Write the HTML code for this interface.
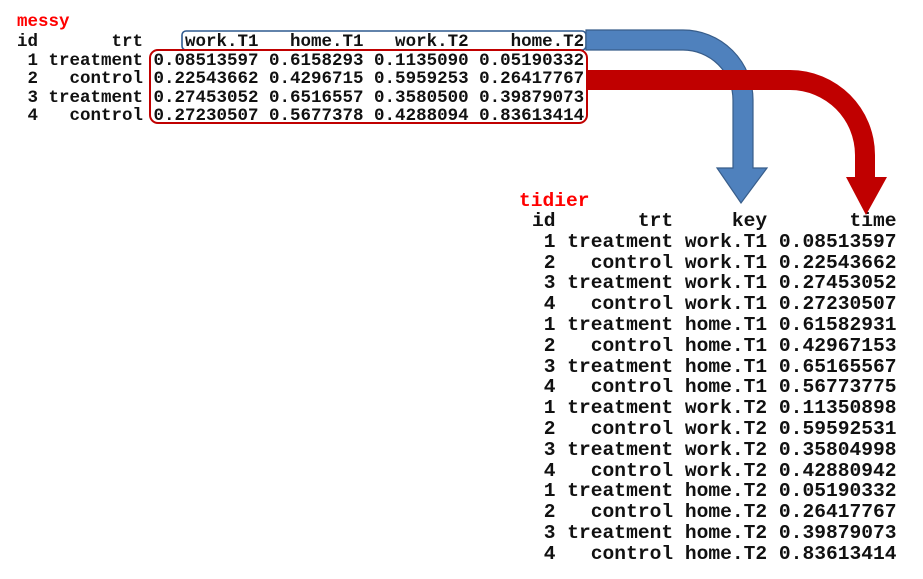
<!DOCTYPE html>
<html><head><meta charset="utf-8"><style>
body{margin:0;width:923px;height:579px;background:#fff;position:relative;overflow:hidden}
pre{margin:0;position:absolute;font-family:"Liberation Mono",monospace;font-weight:bold;color:#111}
.m{left:17px;top:33px;font-size:17.5px;line-height:18.5px}
.t{left:532px;top:211px;font-size:19.6px;line-height:20.8px}
.lab{color:#f00}
svg{position:absolute;left:0;top:0}
</style></head><body>
<pre class="m lab" style="top:13px">messy</pre>
<pre class="m">id       trt    work.T1   home.T1   work.T2    home.T2
 1 treatment 0.08513597 0.6158293 0.1135090 0.05190332
 2   control 0.22543662 0.4296715 0.5959253 0.26417767
 3 treatment 0.27453052 0.6516557 0.3580500 0.39879073
 4   control 0.27230507 0.5677378 0.4288094 0.83613414</pre>
<pre class="t lab" style="left:519px;top:191px">tidier</pre>
<pre class="t">id       trt     key       time
 1 treatment work.T1 0.08513597
 2   control work.T1 0.22543662
 3 treatment work.T1 0.27453052
 4   control work.T1 0.27230507
 1 treatment home.T1 0.61582931
 2   control home.T1 0.42967153
 3 treatment home.T1 0.65165567
 4   control home.T1 0.56773775
 1 treatment work.T2 0.11350898
 2   control work.T2 0.59592531
 3 treatment work.T2 0.35804998
 4   control work.T2 0.42880942
 1 treatment home.T2 0.05190332
 2   control home.T2 0.26417767
 3 treatment home.T2 0.39879073
 4   control home.T2 0.83613414</pre>
<svg width="923" height="579">
<rect x="182" y="31" width="404" height="19" rx="4" fill="none" stroke="#2f5a8f" stroke-width="1.6"/>
<rect x="150" y="50" width="437" height="73" rx="8" fill="none" stroke="#c00000" stroke-width="2"/>
<path d="M586,30 H683 A70,70 0 0 1 753,100 V168 H767 L741,203 L717,168 H733 V100 A50,50 0 0 0 683,50 H586 Z" fill="#4f81bd" stroke="#385d8a" stroke-width="1.2"/>
<path d="M588,70 H790 A85,85 0 0 1 875,155 V177 H887 L866,215 L846,177 H855 V155 A65,65 0 0 0 790,90 H588 Z" fill="#c00000"/>
</svg>
</body></html>
